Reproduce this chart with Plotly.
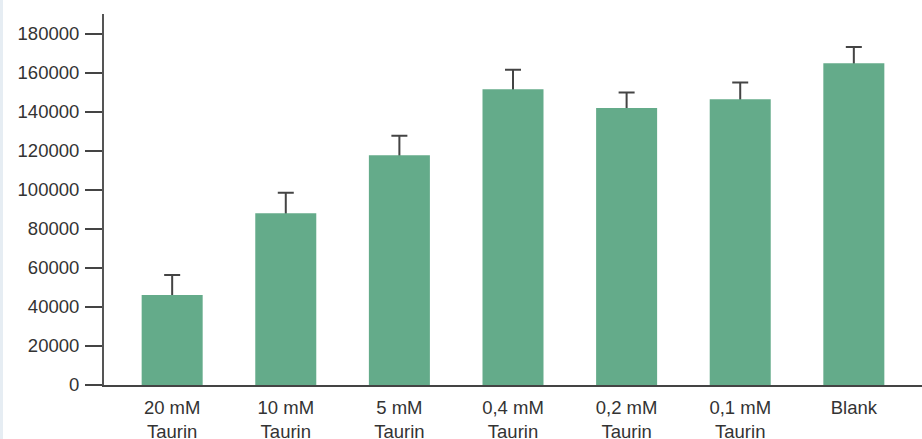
import plotly.graph_objects as go

categories = ["20 mM<br>Taurin", "10 mM<br>Taurin", "5 mM<br>Taurin", "0,4 mM<br>Taurin",
              "0,2 mM<br>Taurin", "0,1 mM<br>Taurin", "Blank"]
values = [46100, 87900, 117700, 151500, 141800, 146400, 164800]
errors = [10200, 10500, 9900, 9900, 8000, 8500, 8300]
y_ticks = [0, 20000, 40000, 60000, 80000, 100000, 120000, 140000, 160000, 180000]

xpos = list(range(len(categories)))

fig = go.Figure()
# error bars (symmetric), lower half hidden behind the bars drawn afterwards
fig.add_trace(go.Bar(
    x=xpos, y=values, width=0.537,
    marker=dict(color="rgba(0,0,0,0)", line=dict(width=0)),
    error_y=dict(type="data", array=errors, symmetric=True,
                 color="#444444", thickness=2, width=8),
    hoverinfo="skip",
))
fig.add_trace(go.Bar(
    x=xpos, y=values, width=0.537,
    marker=dict(color="#64AB8A", line=dict(width=0)),
))

fig.update_layout(
    width=922, height=439,
    autosize=False,
    barmode="overlay",
    margin=dict(l=104, r=0, t=14, b=54, autoexpand=False),
    paper_bgcolor="white", plot_bgcolor="white",
    showlegend=False,
    font=dict(family="Liberation Sans, Arial, sans-serif", size=18.5, color="#333333"),
    xaxis=dict(
        range=[-0.6, 6.6],
        tickmode="array",
        tickvals=xpos,
        ticktext=categories,
        showline=True, linecolor="#444444", linewidth=2,
        showgrid=False, zeroline=False, ticks="",
        ticklabelstandoff=5, automargin=False,
        tickfont=dict(size=18.5),
    ),
    yaxis=dict(
        range=[0, 190000],
        tickmode="array",
        tickvals=y_ticks,
        ticktext=[str(v) for v in y_ticks],
        showline=True, linecolor="#555555", linewidth=2,
        showgrid=False, zeroline=False,
        ticks="outside", ticklen=17, tickwidth=2, tickcolor="#444444",
        ticklabelstandoff=2, automargin=False,
        tickfont=dict(size=18.5),
    ),
    shapes=[dict(type="rect", xref="paper", yref="paper",
                 x0=-104 / 818, x1=-101 / 818, y0=-54 / 371, y1=(371 + 14) / 371,
                 fillcolor="#e6edf3", line=dict(width=0), layer="below")],
)

fig.write_html("out.html", config={"displayModeBar": False, "responsive": False},
               post_script="document.body.style.margin='0';document.body.style.overflow='hidden';")
